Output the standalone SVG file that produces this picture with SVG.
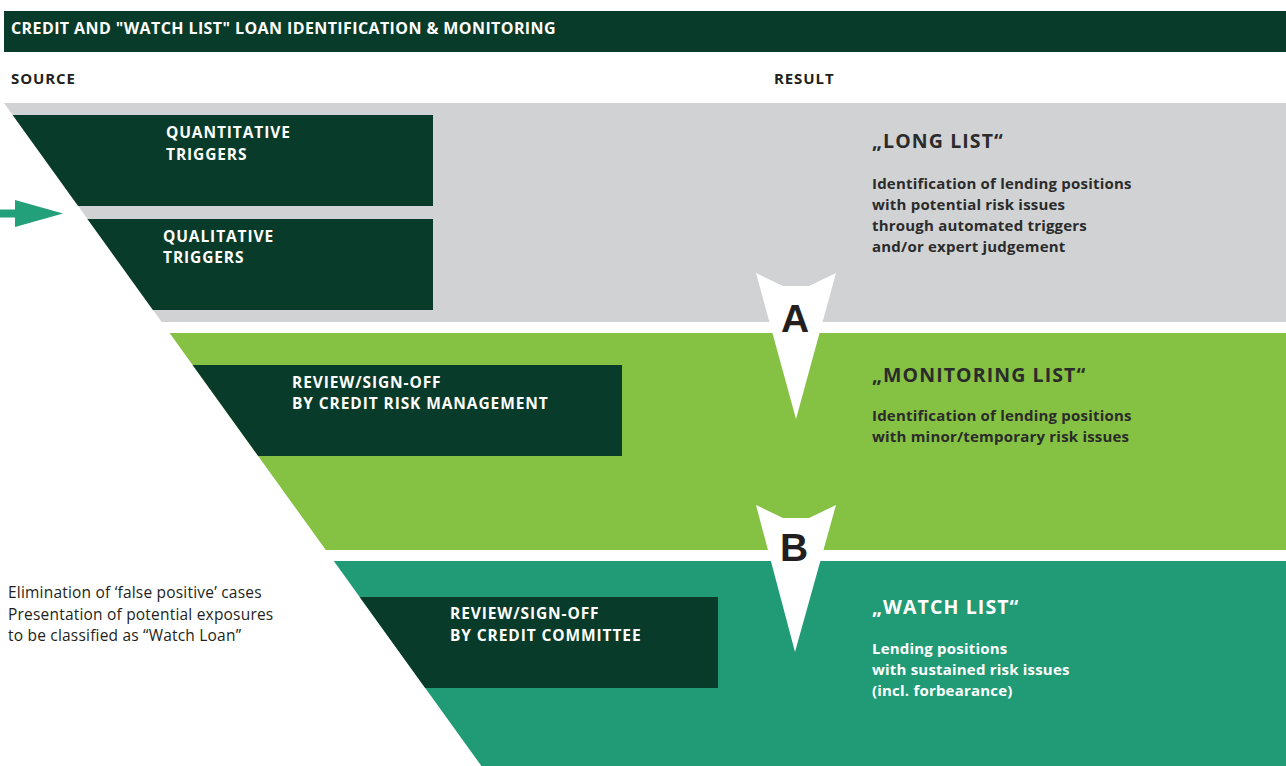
<svg xmlns="http://www.w3.org/2000/svg" width="1286" height="766" viewBox="0 0 1286 766">
<style>
.t{font-family:"Open Sans","Liberation Sans",sans-serif;font-weight:700}
.hdr{fill:#ffffff;font-size:16px;letter-spacing:0.4px}
.lab{fill:#231f20;font-size:15px;letter-spacing:0.9px}
.box{fill:#093b2a}
.bt{fill:#ffffff;font-size:15.5px;letter-spacing:0.9px}
.ttl{fill:#2b2b2b;font-size:19.5px;letter-spacing:1.1px}
.body{fill:#2b2b2b;font-size:15px;letter-spacing:0.2px}
.w{fill:#ffffff}
.note{font-family:"Open Sans","Liberation Sans",sans-serif;font-size:15.5px;letter-spacing:0.2px;fill:#231f20}
.ab{fill:#ffffff}
.let{font-family:"Liberation Sans",Arial,sans-serif;font-weight:700;font-size:39px;fill:#231f20;text-anchor:middle}
</style>
<rect x="0" y="0" width="1286" height="766" fill="#ffffff"/>
<g id="header">
<rect x="4" y="11" width="1282" height="41" fill="#093b2a"/>
<text class="t hdr" x="11" y="33.5">CREDIT AND "WATCH LIST" LOAN IDENTIFICATION &amp; MONITORING</text>
</g>
<g id="column-labels">
<text class="t lab" x="11" y="84">SOURCE</text>
<text class="t lab" x="774" y="84">RESULT</text>
</g>
<g id="band-long-list">
<polygon points="4,103 1286,103 1286,322 161.7,322" fill="#d1d2d4"/>
<text class="t ttl" x="872" y="148">„LONG LIST“</text>
<text class="t body" x="872" y="189">Identification of lending positions</text>
<text class="t body" x="872" y="210">with potential risk issues</text>
<text class="t body" x="872" y="231">through automated triggers</text>
<text class="t body" x="872" y="252">and/or expert judgement</text>
</g>
<g id="band-monitoring-list">
<polygon points="169.6,333 1286,333 1286,550 325.8,550" fill="#85c143"/>
<text class="t ttl" x="872" y="382">„MONITORING LIST“</text>
<text class="t body" x="872" y="421">Identification of lending positions</text>
<text class="t body" x="872" y="442">with minor/temporary risk issues</text>
</g>
<g id="band-watch-list">
<polygon points="333.8,561 1286,561 1286,766 481.4,766" fill="#209b76"/>
<text class="t ttl w" x="872" y="614">„WATCH LIST“</text>
<text class="t body w" x="872" y="654">Lending positions</text>
<text class="t body w" x="872" y="675">with sustained risk issues</text>
<text class="t body w" x="872" y="696">(incl. forbearance)</text>
</g>
<g id="quantitative-triggers">
<polygon class="box" points="12.6,115 433,115 433,206 78.1,206"/>
<text class="t bt" x="166" y="138">QUANTITATIVE</text>
<text class="t bt" x="166" y="160">TRIGGERS</text>
</g>
<g id="qualitative-triggers">
<polygon class="box" points="87.4,219 433,219 433,310 152.9,310"/>
<text class="t bt" x="163" y="242">QUALITATIVE</text>
<text class="t bt" x="163" y="263">TRIGGERS</text>
</g>
<g id="review-crm">
<polygon class="box" points="192.6,365 622,365 622,456 258.2,456"/>
<text class="t bt" x="292" y="388">REVIEW/SIGN-OFF</text>
<text class="t bt" x="292" y="409">BY CREDIT RISK MANAGEMENT</text>
</g>
<g id="review-committee">
<polygon class="box" points="359.7,597 718,597 718,688 425.2,688"/>
<text class="t bt" x="450" y="619">REVIEW/SIGN-OFF</text>
<text class="t bt" x="450" y="641">BY CREDIT COMMITTEE</text>
</g>
<g id="note">
<text class="note" x="8" y="598">Elimination of ‘false positive’ cases</text>
<text class="note" x="8" y="620">Presentation of potential exposures</text>
<text class="note" x="8" y="641">to be classified as “Watch Loan”</text>
</g>
<g id="connectors">
<g id="input-arrow" fill="#21a07a">
<rect x="0" y="209.5" width="17" height="8"/>
<polygon points="15,200 63,213.5 15,227"/>
</g>
<g id="arrow-a">
<polygon class="ab" points="756,273 783,286 809,286 836,273 796,419"/>
<text class="let" x="795" y="332">A</text>
</g>
<g id="arrow-b">
<polygon class="ab" points="756,505 783,518 809,518 836,505 795,652"/>
<text class="let" x="794" y="561">B</text>
</g>
</g>
</svg>
